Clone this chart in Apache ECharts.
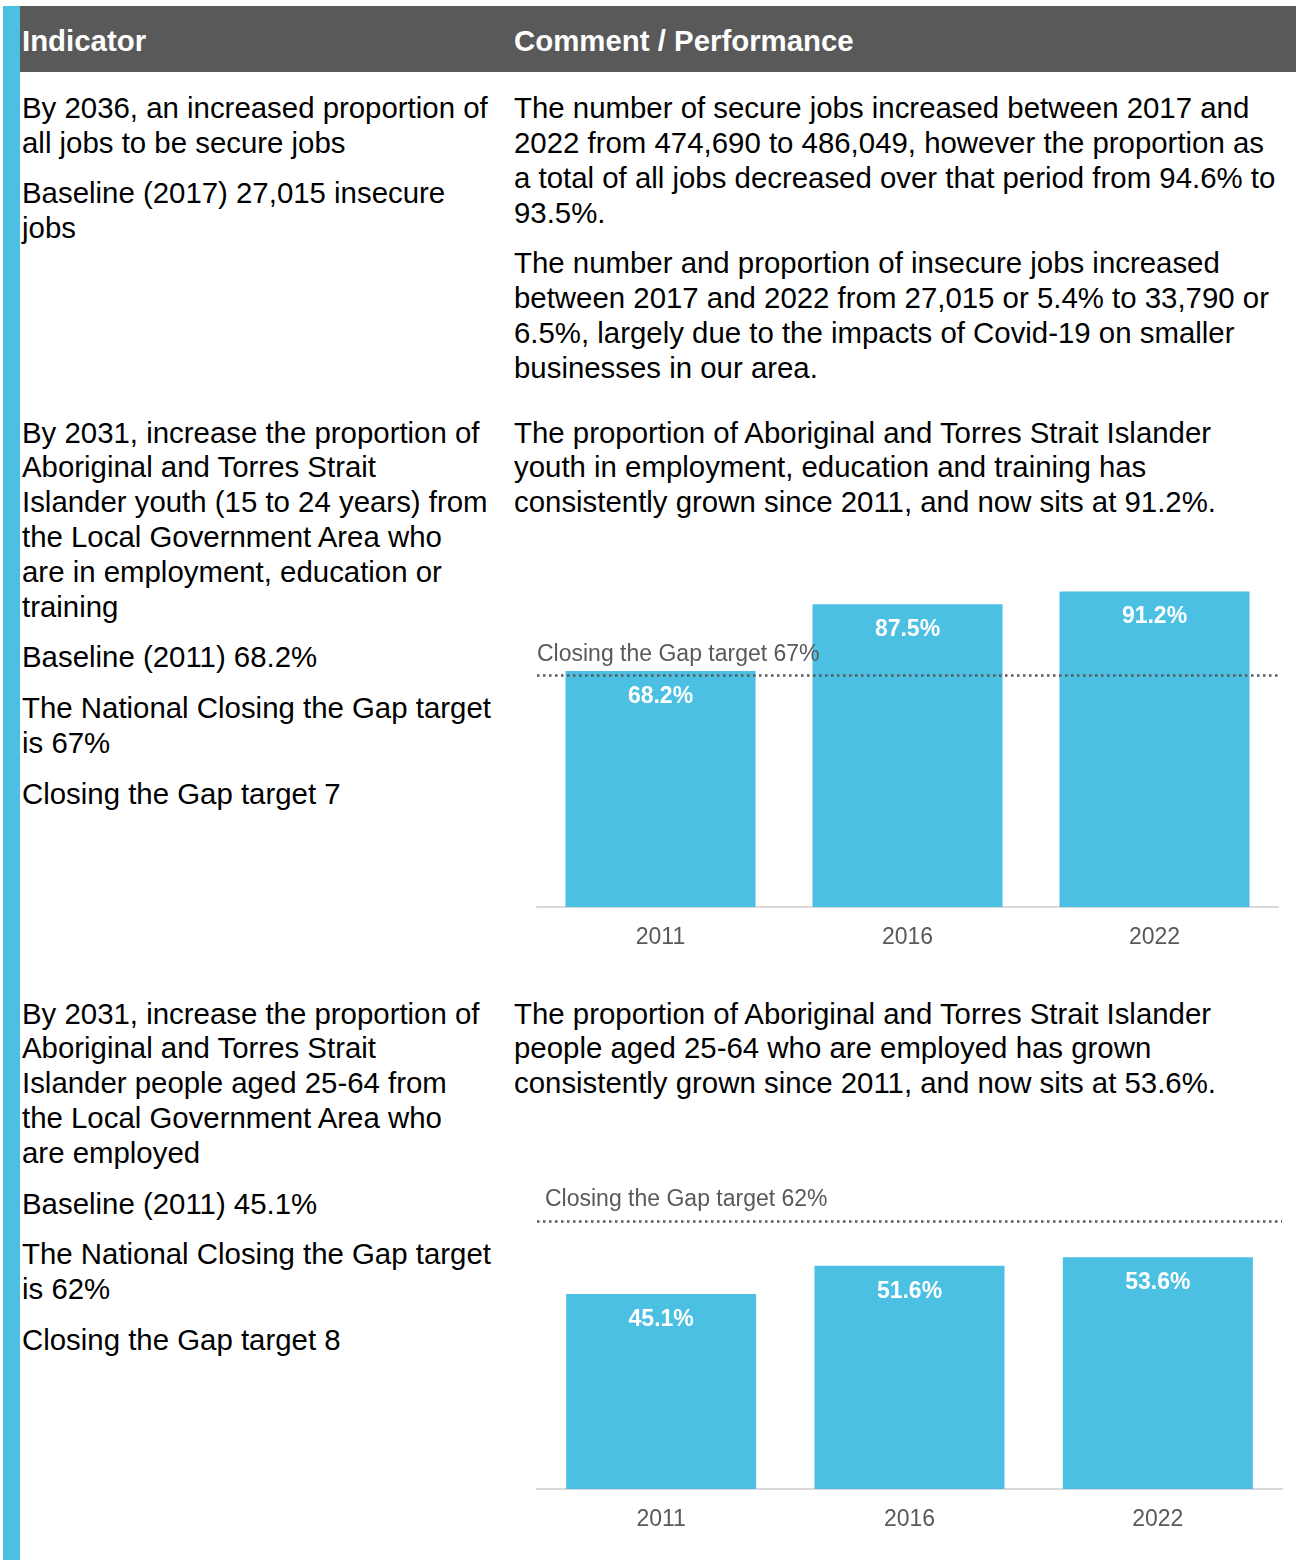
<!DOCTYPE html>
<html>
<head>
<meta charset="utf-8">
<title>Indicators</title>
<script src="https://cdn.jsdelivr.net/npm/echarts@6/dist/echarts.min.js"></script>
<style>
  body { margin: 0; background: #fff; }
  #page { position: relative; width: 1296px; height: 1560px; overflow: hidden;
    font-family: Arial, "Liberation Sans", sans-serif; color: #000; }
  .stripe { position: absolute; left: 3px; top: 6px; width: 17px; height: 1554px; background: #4bc0e3; }
  .head { position: absolute; left: 20px; top: 6px; width: 1276px; height: 66px; background: #595959; }
  .head span { position: absolute; top: 0; line-height: 69px; font-size: 29.4px; font-weight: bold; color: #fff; }
  .cell { position: absolute; font-size: 29.4px; line-height: 34.85px; white-space: nowrap; }
  .cell p { margin: 0 0 15.8px 0; }
  .chart { position: absolute; }
</style>
</head>
<body>
<div id="page">
  <div class="stripe"></div>
  <div class="head">
    <span style="left:2px">Indicator</span>
    <span style="left:494px">Comment / Performance</span>
  </div>

  <div class="cell" style="left:22px; top:91px">
    <p>By 2036, an increased proportion of<br>all jobs to be secure jobs</p>
    <p>Baseline (2017) 27,015 insecure<br>jobs</p>
  </div>
  <div class="cell" style="left:514px; top:91px">
    <p>The number of secure jobs increased between 2017 and<br>2022 from 474,690 to 486,049, however the proportion as<br>a total of all jobs decreased over that period from 94.6% to<br>93.5%.</p>
    <p>The number and proportion of insecure jobs increased<br>between 2017 and 2022 from 27,015 or 5.4% to 33,790 or<br>6.5%, largely due to the impacts of Covid-19 on smaller<br>businesses in our area.</p>
  </div>

  <div class="cell" style="left:22px; top:415.6px">
    <p>By 2031, increase the proportion of<br>Aboriginal and Torres Strait<br>Islander youth (15 to 24 years) from<br>the Local Government Area who<br>are in employment, education or<br>training</p>
    <p>Baseline (2011) 68.2%</p>
    <p>The National Closing the Gap target<br>is 67%</p>
    <p>Closing the Gap target 7</p>
  </div>
  <div class="cell" style="left:514px; top:415.6px">
    <p>The proportion of Aboriginal and Torres Strait Islander<br>youth in employment, education and training has<br>consistently grown since 2011, and now sits at 91.2%.</p>
  </div>
  <div id="chartYouth" class="chart" style="left:514px; top:540px; width:782px; height:440px"></div>

  <div class="cell" style="left:22px; top:996.6px">
    <p>By 2031, increase the proportion of<br>Aboriginal and Torres Strait<br>Islander people aged 25-64 from<br>the Local Government Area who<br>are employed</p>
    <p>Baseline (2011) 45.1%</p>
    <p>The National Closing the Gap target<br>is 62%</p>
    <p>Closing the Gap target 8</p>
  </div>
  <div class="cell" style="left:514px; top:996.6px">
    <p>The proportion of Aboriginal and Torres Strait Islander<br>people aged 25-64 who are employed has grown<br>consistently grown since 2011, and now sits at 53.6%.</p>
  </div>
  <div id="chartEmployed" class="chart" style="left:514px; top:1120px; width:782px; height:440px"></div>
</div>

<script>
  // chart data
  const years = ['2011', '2016', '2022']
  const youthValues = [68.2, 87.5, 91.2]
  const employedValues = [45.1, 51.6, 53.6]
  const youthTarget = 67
  const employedTarget = 62
  const youthMax = 100
  const employedMax = 80

  const barColor = '#4bc0e3'
  const greyText = '#595959'

  function buildOption(values, target, max, grid, targetOffset, labelMargin) {
    return {
      animation: false,
      grid: grid,
      xAxis: {
        type: 'category',
        data: years,
        axisTick: { show: false },
        axisLine: { lineStyle: { color: '#d9d9d9', width: 2 } },
        axisLabel: {
          color: greyText,
          fontSize: 23,
          margin: labelMargin,
          fontFamily: '"Liberation Sans Narrow", "Arial Narrow", Arial, sans-serif'
        }
      },
      yAxis: {
        type: 'value',
        min: 0,
        max: max,
        show: false
      },
      series: [{
        type: 'bar',
        data: values,
        barWidth: 190,
        itemStyle: { color: barColor },
        label: {
          show: true,
          position: 'insideTop',
          distance: 14,
          color: '#fff',
          fontWeight: 'bold',
          fontSize: 23,
          fontFamily: 'Arial, "Liberation Sans", sans-serif',
          formatter: function(p) {
            return p.value.toFixed(1) + '%'
          }
        },
        markLine: {
          silent: true,
          symbol: 'none',
          lineStyle: { color: greyText, type: [2.5, 3.5], width: 2.5 },
          label: {
            position: 'insideStartTop',
            distance: 11,
            offset: targetOffset,
            color: greyText,
            fontSize: 23,
            fontFamily: 'Arial, "Liberation Sans", sans-serif',
            formatter: 'Closing the Gap target ' + target + '%'
          },
          data: [{ yAxis: target }]
        }
      }]
    }
  }

  const youthChart = echarts.init(document.getElementById('chartYouth'))
  youthChart.setOption(buildOption(youthValues, youthTarget, youthMax,
    { left: 23, top: 21, width: 741, height: 346 }, [-11, 2], 19))

  const employedChart = echarts.init(document.getElementById('chartEmployed'))
  employedChart.setOption(buildOption(employedValues, employedTarget, employedMax,
    { left: 23, top: 23, width: 745, height: 346 }, [-3, 1], 19))
</script>
</body>
</html>
